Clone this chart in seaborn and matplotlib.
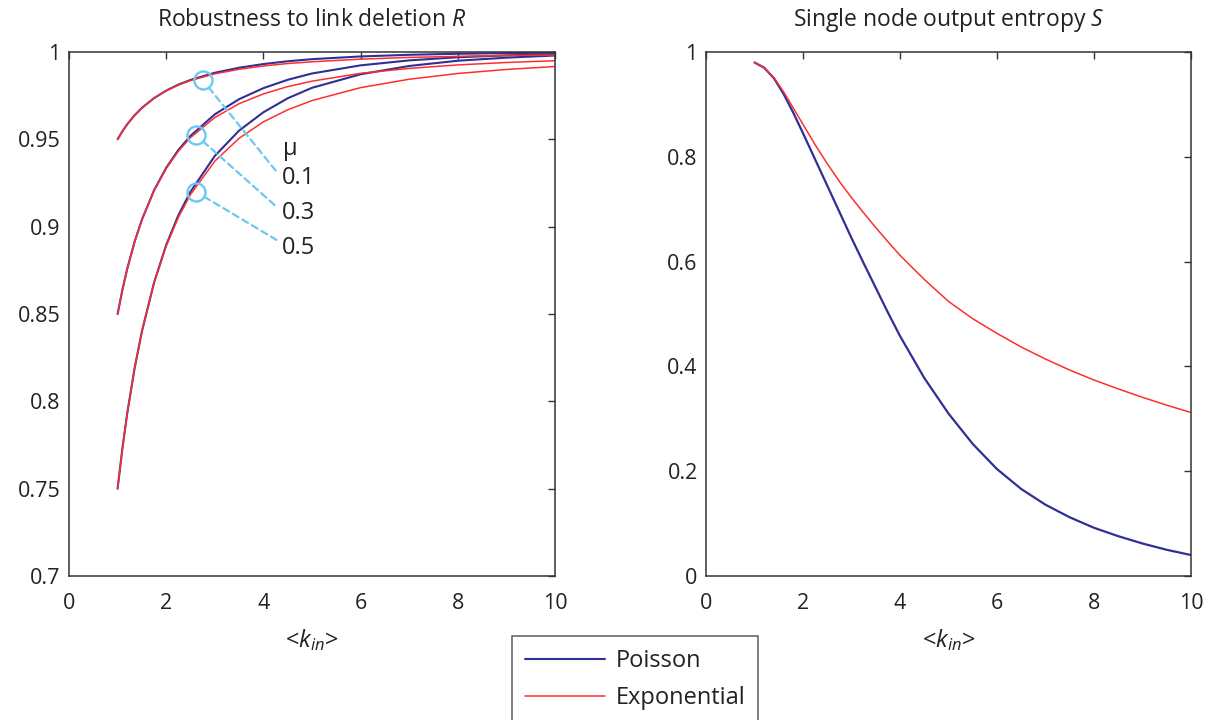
import numpy as np
import pandas as pd
import matplotlib
matplotlib.use("Agg")
import matplotlib.pyplot as plt
import seaborn as sns

# ---------------- data ----------------
k_R = [1, 1.1, 1.2, 1.35, 1.5, 1.75, 2, 2.25, 2.5, 3, 3.5, 4, 4.5, 5, 6, 7, 8, 9, 10]

R_exp_01 = [0.950, 0.9546, 0.9587, 0.9638, 0.968, 0.9736, 0.9778, 0.9811, 0.9837, 0.9875,
            0.9901, 0.992, 0.9934, 0.9944, 0.9959, 0.9969, 0.9975, 0.998, 0.9983]
R_exp_03 = [0.850, 0.8639, 0.876, 0.8913, 0.904, 0.9207, 0.9333, 0.9432, 0.951, 0.9625,
            0.9704, 0.976, 0.9802, 0.9833, 0.9878, 0.9906, 0.9926, 0.994, 0.995]
R_exp_05 = [0.750, 0.7732, 0.7934, 0.8189, 0.840, 0.8678, 0.8889, 0.9053, 0.9184, 0.9375,
            0.9506, 0.960, 0.9669, 0.9722, 0.9796, 0.9844, 0.9877, 0.990, 0.9917]

R_poi_01 = [0.950, 0.9547, 0.9587, 0.9638, 0.968, 0.9736, 0.9779, 0.9813, 0.984, 0.9881,
            0.991, 0.9931, 0.9947, 0.9959, 0.99745, 0.9984, 0.999, 0.99935, 0.9996]
R_poi_03 = [0.850, 0.864, 0.8761, 0.8914, 0.904, 0.9208, 0.9337, 0.9439, 0.952, 0.9643,
            0.973, 0.9793, 0.9841, 0.9877, 0.99235, 0.9952, 0.997, 0.99805, 0.9988]
R_poi_05 = [0.750, 0.7733, 0.7935, 0.819, 0.840, 0.868, 0.8895, 0.9065, 0.920, 0.9405,
            0.955, 0.9655, 0.9735, 0.9795, 0.98725, 0.992, 0.995, 0.99675, 0.998]

k_S = [1, 1.2, 1.4, 1.6, 1.8, 2, 2.25, 2.5, 2.75, 3, 3.25, 3.5, 3.75, 4, 4.5, 5, 5.5, 6,
       6.5, 7, 7.5, 8, 8.5, 9, 9.5, 10]
S_poi = [0.980, 0.970, 0.950, 0.920, 0.884, 0.845, 0.795, 0.745, 0.695, 0.645, 0.597, 0.550,
         0.503, 0.458, 0.378, 0.310, 0.252, 0.204, 0.166, 0.136, 0.112, 0.092, 0.076, 0.062,
         0.050, 0.040]
S_exp = [0.980, 0.970, 0.951, 0.924, 0.893, 0.862, 0.823, 0.787, 0.753, 0.722, 0.693, 0.665,
         0.638, 0.612, 0.566, 0.524, 0.491, 0.463, 0.437, 0.414, 0.393, 0.374, 0.357, 0.341,
         0.326, 0.312]

mu_labels = ["0.1", "0.3", "0.5"]
mark_k = [2.75, 2.61, 2.61]
mark_R = [0.984, 0.9525, 0.920]
leader_end_k = [4.27, 4.27, 4.27]
leader_end_R = [0.9315, 0.9114, 0.8924]
label_R = [0.9277, 0.9077, 0.8876]

xticks = [0, 2, 4, 6, 8, 10]
xticklabels = ["0", "2", "4", "6", "8", "10"]
R_ticks = [0.7, 0.75, 0.8, 0.85, 0.9, 0.95, 1.0]
R_ticklabels = ["0.7", "0.75", "0.8", "0.85", "0.9", "0.95", "1"]
S_ticks = [0, 0.2, 0.4, 0.6, 0.8, 1.0]
S_ticklabels = ["0", "0.2", "0.4", "0.6", "0.8", "1"]

series_names = ["Poisson", "Exponential"]

# ---------------- style ----------------
sns.set_theme(style="white")
plt.rcParams["font.family"] = ["Open Sans", "DejaVu Sans"]
plt.rcParams["mathtext.fontset"] = "custom"
plt.rcParams["mathtext.rm"] = "Open Sans"
plt.rcParams["mathtext.it"] = "Open Sans:italic"

BLUE = "#2f2f94"
RED = "#ff2e2e"
CYAN = "#6cc8f0"
TXT = "#222222"

fig = plt.figure(figsize=(12.11, 7.2), dpi=100)
axL = fig.add_axes([69 / 1211, 0.2, 486 / 1211, 524 / 720])
axR = fig.add_axes([706 / 1211, 0.2, 485 / 1211, 524 / 720])

rows = []
for mu, yp, ye in [("0.1", R_poi_01, R_exp_01), ("0.3", R_poi_03, R_exp_03), ("0.5", R_poi_05, R_exp_05)]:
    for kk, v in zip(k_R, yp):
        rows.append(dict(k=kk, R=v, dist="Poisson", mu=mu))
    for kk, v in zip(k_R, ye):
        rows.append(dict(k=kk, R=v, dist="Exponential", mu=mu))
dfR = pd.DataFrame(rows)

dfS = pd.DataFrame(dict(k=k_S * 2, S=S_poi + S_exp,
                        dist=["Poisson"] * len(k_S) + ["Exponential"] * len(k_S)))

for mu in mu_labels:
    sub = dfR[(dfR.mu == mu) & (dfR.dist == "Poisson")]
    sns.lineplot(data=sub, x="k", y="R", ax=axL, color=BLUE, lw=1.5, estimator=None, sort=False)
for mu in mu_labels:
    sub = dfR[(dfR.mu == mu) & (dfR.dist == "Exponential")]
    sns.lineplot(data=sub, x="k", y="R", ax=axL, color=RED, lw=1.1, estimator=None, sort=False)

sns.lineplot(data=dfS[dfS.dist == "Poisson"], x="k", y="S", ax=axR, color=BLUE, lw=1.6,
             estimator=None, sort=False)
sns.lineplot(data=dfS[dfS.dist == "Exponential"], x="k", y="S", ax=axR, color=RED, lw=1.1,
             estimator=None, sort=False)

# annotations on the left panel
for i in range(3):
    axL.annotate("", xy=(leader_end_k[i], leader_end_R[i]), xytext=(mark_k[i], mark_R[i]),
                 arrowprops=dict(arrowstyle="-", color=CYAN, lw=1.6, linestyle=(0, (3, 2)),
                                 shrinkA=7, shrinkB=0))
axL.plot(mark_k, mark_R, "o", ms=13, mfc="none", mec=CYAN, mew=1.7, zorder=5)
axL.text(4.40, 0.9445, "μ", fontsize=17, color=TXT, ha="left", va="center")
for i in range(3):
    axL.text(4.38, label_R[i], mu_labels[i], fontsize=17, color=TXT, ha="left", va="center")

for ax, yt, ytl, ylim in [(axL, R_ticks, R_ticklabels, (0.7, 1.0)),
                          (axR, S_ticks, S_ticklabels, (0, 1.0))]:
    ax.set_xlim(0, 10)
    ax.set_ylim(*ylim)
    ax.set_xticks(xticks)
    ax.set_xticklabels(xticklabels)
    ax.set_yticks(yt)
    ax.set_yticklabels(ytl)
    ax.tick_params(direction="in", length=5, width=1, top=True, right=True,
                   labelsize=15.5, colors="#333333", labelcolor=TXT)
    ax.tick_params(axis="x", pad=12)
    ax.tick_params(axis="y", pad=6)
    for s in ax.spines.values():
        s.set_color("#333333")
        s.set_linewidth(1.1)
    ax.set_xlabel("<$k_{in}$>", fontsize=17, color=TXT, labelpad=10)
    ax.set_ylabel("")

axL.set_title("Robustness to link deletion $R$", fontsize=16.5, color=TXT, pad=19)
axR.set_title("Single node output entropy $S$", fontsize=16.5, color=TXT, pad=19)

handles = [plt.Line2D([], [], color=BLUE, lw=1.5), plt.Line2D([], [], color=RED, lw=1.1)]
leg = fig.legend(handles, series_names, loc="upper center",
                 bbox_to_anchor=(635 / 1211, 1 - 636 / 720), fontsize=17, frameon=True,
                 fancybox=False, handlelength=3.4, handletextpad=0.45, borderpad=0.55,
                 labelspacing=0.57, borderaxespad=0)
leg.get_frame().set_edgecolor("#333333")
leg.get_frame().set_linewidth(1.1)
for t in leg.get_texts():
    t.set_color(TXT)

fig.savefig("out.png", dpi=100, facecolor="white")
